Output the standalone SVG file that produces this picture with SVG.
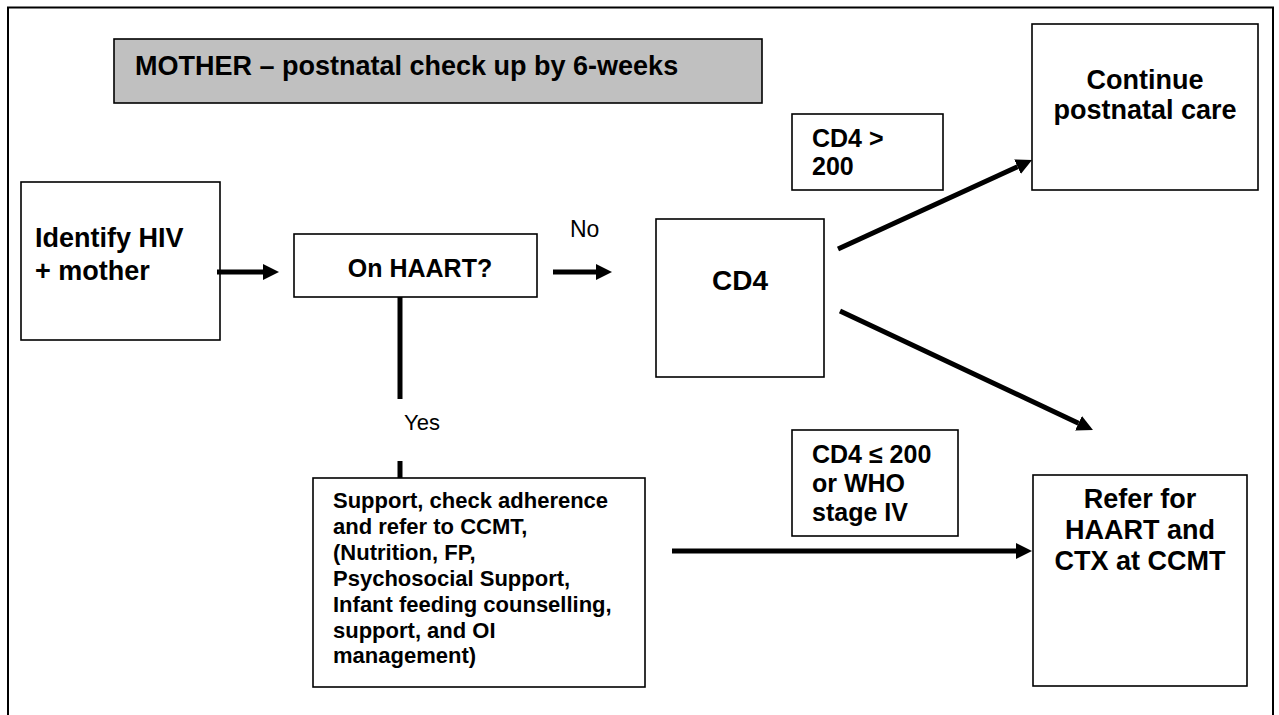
<svg xmlns="http://www.w3.org/2000/svg" width="1279" height="715" viewBox="0 0 1279 715">
<style>
.box{fill:#fff;stroke:#000;stroke-width:1.6}
.title{fill:#c0c0c0;stroke:#000;stroke-width:1.6}
.t{font-family:"Liberation Sans",Arial,sans-serif;font-weight:bold;fill:#000}
.r{font-family:"Liberation Sans",Arial,sans-serif;font-weight:normal;fill:#000}
.c{stroke:#000;stroke-width:5;fill:none}
</style>
<defs>
<marker id="ah" markerUnits="userSpaceOnUse" markerWidth="17" markerHeight="17" refX="0" refY="8" orient="auto" viewBox="0 0 17 17">
<path d="M0,0 L16,8 L0,16 z" fill="#000"/>
</marker>
</defs>
<rect x="0" y="0" width="1279" height="715" fill="#fff"/>
<rect id="frame" x="8" y="7.5" width="1265" height="720" fill="none" stroke="#000" stroke-width="2"/>
<g id="title">
<rect class="title" x="114" y="39" width="648" height="64"/>
<text class="t" x="135" y="75" font-size="27">MOTHER – postnatal check up by 6-weeks</text>
</g>
<g id="identify">
<rect class="box" x="21" y="182" width="199" height="158"/>
<text class="t" x="35" y="247" font-size="27">Identify HIV</text>
<text class="t" x="35" y="280" font-size="27">+ mother</text>
</g>
<g id="onhaart">
<rect class="box" x="294" y="234" width="243" height="63"/>
<text class="t" x="420" y="277" font-size="25" text-anchor="middle">On HAART?</text>
</g>
<g id="cd4">
<rect class="box" x="656" y="219" width="168" height="158"/>
<text class="t" x="740" y="290" font-size="28" text-anchor="middle">CD4</text>
</g>
<g id="cd4gt">
<rect class="box" x="792" y="114" width="151" height="76"/>
<text class="t" x="812" y="147" font-size="25">CD4 &gt;</text>
<text class="t" x="812" y="175" font-size="25">200</text>
</g>
<g id="continue">
<rect class="box" x="1032" y="24" width="226" height="166"/>
<text class="t" x="1145" y="89" font-size="27" text-anchor="middle">Continue</text>
<text class="t" x="1145" y="119" font-size="27" text-anchor="middle">postnatal care</text>
</g>
<g id="support">
<rect class="box" x="313" y="478" width="332" height="209"/>
<text class="t" x="333" y="508" font-size="22">Support, check adherence</text>
<text class="t" x="333" y="534" font-size="22">and refer to CCMT,</text>
<text class="t" x="333" y="560" font-size="22">(Nutrition, FP,</text>
<text class="t" x="333" y="586" font-size="22">Psychosocial Support,</text>
<text class="t" x="333" y="612" font-size="22">Infant feeding counselling,</text>
<text class="t" x="333" y="638" font-size="22">support, and OI</text>
<text class="t" x="333" y="663" font-size="22">management)</text>
</g>
<g id="cd4le">
<rect class="box" x="792" y="430" width="166" height="106"/>
<text class="t" x="812" y="463" font-size="25">CD4 ≤ 200</text>
<text class="t" x="812" y="492" font-size="25">or WHO</text>
<text class="t" x="812" y="521" font-size="25">stage IV</text>
</g>
<g id="refer">
<rect class="box" x="1033" y="475" width="214" height="211"/>
<text class="t" x="1140" y="508" font-size="27" text-anchor="middle">Refer for</text>
<text class="t" x="1140" y="539" font-size="27" text-anchor="middle">HAART and</text>
<text class="t" x="1140" y="570" font-size="27" text-anchor="middle">CTX at CCMT</text>
</g>
<g id="connectors">
<line class="c" x1="217" y1="272" x2="263" y2="272" marker-end="url(#ah)"/>
<line class="c" x1="553" y1="272" x2="596" y2="272" marker-end="url(#ah)"/>
<line class="c" x1="838" y1="249" x2="1017.5" y2="166.7" marker-end="url(#ah)"/>
<line class="c" x1="840" y1="311" x2="1078.5" y2="423.2" marker-end="url(#ah)"/>
<line class="c" x1="672" y1="551" x2="1016" y2="551" marker-end="url(#ah)"/>
<line class="c" x1="400" y1="297" x2="400" y2="399"/>
<line class="c" x1="400" y1="461" x2="400" y2="478"/>
<text class="r" x="570" y="237" font-size="23">No</text>
<text class="r" x="404" y="430" font-size="22">Yes</text>
</g>
</svg>
